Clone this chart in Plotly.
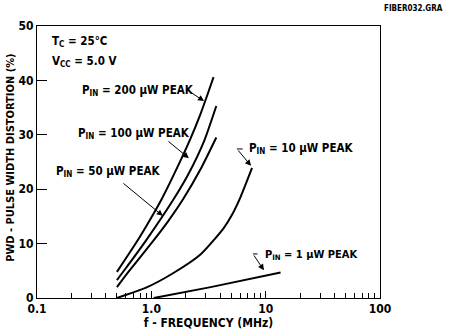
import math
import plotly.graph_objects as go

# ---- data (frequency in MHz, PWD in %) ----
f_200 = [0.5, 0.77, 1.0, 1.24, 1.6, 2.2, 2.7, 3.1, 3.5]
pwd_200 = [4.8, 10.8, 14.8, 18.3, 23.0, 29.3, 33.9, 37.4, 40.6]

f_100 = [0.5, 0.58, 0.9, 1.56, 2.1, 2.9, 3.7]
pwd_100 = [3.3, 5.1, 10.6, 18.1, 22.7, 28.9, 35.3]

f_50 = [0.5, 0.63, 1.03, 1.4, 1.9, 2.7, 3.7]
pwd_50 = [2.0, 4.8, 10.4, 14.1, 18.2, 23.7, 29.5]

f_10 = [0.5, 0.92, 1.56, 2.69, 4.28, 5.05, 6.04, 7.6]
pwd_10 = [0.0, 2.0, 4.6, 8.0, 12.8, 15.2, 18.6, 23.9]

f_1 = [1.05, 3.3, 13.5]
pwd_1 = [0.0, 2.0, 4.7]

x_tickvals = [0.1, 1, 10, 100]
x_ticktext = ["0.1", "1.0", "10", "100"]
x_minorvals = [m * d for d in (0.1, 1, 10) for m in range(2, 10)]
y_tickvals = [0, 10, 20, 30, 40, 50]
y_ticktext = ["0", "10", "20", "30", "40", "50"]

FONT = "Liberation Sans Narrow, DejaVu Sans Condensed, Arial Narrow, sans-serif"
L = math.log10

fig = go.Figure()
for fx, py in [(f_200, pwd_200), (f_100, pwd_100), (f_50, pwd_50), (f_10, pwd_10), (f_1, pwd_1)]:
    fig.add_trace(go.Scatter(x=fx, y=py, mode="lines",
                             line=dict(color="black", width=2, shape="spline", smoothing=0.6),
                             showlegend=False, hoverinfo="skip"))

def label(text, f, y, size=11.5):
    fig.add_annotation(x=L(f), y=y, xref="x", yref="y", text=text, showarrow=False,
                       xanchor="left", yanchor="middle",
                       font=dict(family=FONT, size=size, color="black", weight="bold"))

def arrow(f_head, y_head, f_tail, y_tail, head=2):
    fig.add_annotation(x=L(f_head), y=y_head, ax=L(f_tail), ay=y_tail,
                       xref="x", yref="y", axref="x", ayref="y", text="",
                       showarrow=True, arrowhead=head, arrowsize=1.2, arrowwidth=1,
                       arrowcolor="black", standoff=0, startstandoff=0)

label("T<sub>C</sub> = 25°C", 0.130, 47.1)
label("V<sub>CC</sub> = 5.0 V", 0.130, 43.4)
label("P<sub>IN</sub> = 200 µW PEAK", 0.237, 38.2)
label("P<sub>IN</sub> = 100 µW PEAK", 0.219, 30.3)
label("P<sub>IN</sub> = 50 µW PEAK", 0.141, 23.2)
label("P<sub>IN</sub> = 10 µW PEAK", 6.87, 27.4)
label("P<sub>IN</sub> = 1 µW PEAK", 9.48, 7.9, size=11)

arrow(2.89, 36.2, 2.18, 37.9)
arrow(2.13, 25.7, 1.37, 29.0)
arrow(1.26, 15.1, 0.553, 21.3)
arrow(7.45, 24.3, 5.61, 27.4)
arrow(5.61, 27.4, 6.47, 27.4, head=0)
arrow(9.66, 5.1, 7.74, 8.1)
arrow(7.74, 8.1, 8.75, 8.1, head=0)

fig.add_annotation(x=1.19, y=1.066, xref="paper", yref="paper", text="FIBER032.GRA",
                   showarrow=False, xanchor="right", yanchor="middle",
                   font=dict(family=FONT, size=8, color="black", weight="bold"))
fig.add_annotation(x=-0.076, y=0.515, xref="paper", yref="paper",
                   text="PWD - PULSE WIDTH DISTORTION (%)", textangle=-90,
                   showarrow=False, xanchor="center", yanchor="middle",
                   font=dict(family=FONT, size=11, color="black", weight="bold"))

fig.update_xaxes(type="log", range=[-1, 2], tickvals=x_tickvals, ticktext=x_ticktext,
                 ticks="inside", ticklen=7, tickcolor="black", tickwidth=1,
                 minor=dict(ticks="inside", ticklen=5, tickcolor="black", tickwidth=1,
                            tickvals=x_minorvals, showgrid=False),
                 showline=True, linecolor="black", linewidth=1, mirror=True,
                 showgrid=False, zeroline=False, automargin=False,
                 title=dict(text="f - FREQUENCY (MHz)", standoff=2,
                            font=dict(family=FONT, size=12, color="black", weight="bold")),
                 tickfont=dict(family=FONT, size=12, color="black", weight="bold"))
fig.update_yaxes(range=[0, 50], tickvals=y_tickvals, ticktext=y_ticktext,
                 ticks="inside", ticklen=10, tickcolor="black", tickwidth=1,
                 showline=True, linecolor="black", linewidth=1, mirror=True,
                 showgrid=False, zeroline=False, automargin=False,
                 tickfont=dict(family=FONT, size=12, color="black", weight="bold"))

fig.update_layout(width=449, height=331, margin=dict(l=37, r=69, t=26, b=33),
                  plot_bgcolor="white", paper_bgcolor="white", showlegend=False)

fig.write_html("out.html", config={"displayModeBar": False},
               post_script="document.body.style.margin='0';document.body.style.padding='0';")
